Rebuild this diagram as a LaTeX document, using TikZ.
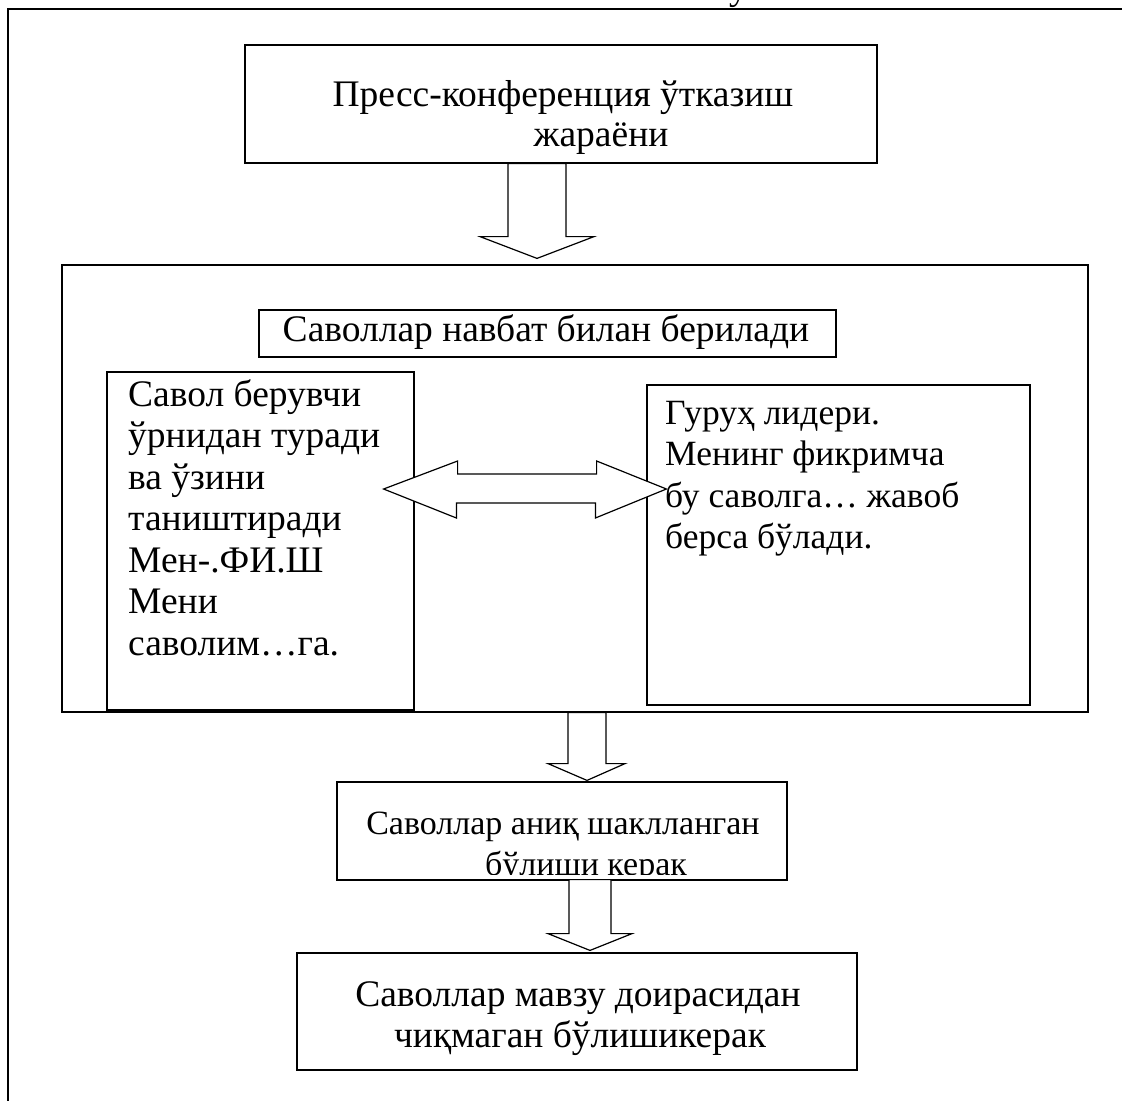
\documentclass[tikz,border=0pt]{standalone}
\usepackage{fontspec}
\setmainfont{Liberation Serif}
\usetikzlibrary{calc}
\begin{document}
\begin{tikzpicture}[x=1bp,y=-1bp,
  box/.style={draw, line width=1.2bp, inner sep=0pt, fill=white},
  txt/.style={inner sep=0pt, font=\fontsize{37.5bp}{41.5bp}\selectfont},
  txtr/.style={inner sep=0pt, font=\fontsize{35.5bp}{41.5bp}\selectfont},
  txts/.style={inner sep=0pt, font=\fontsize{34bp}{41.5bp}\selectfont},
  barrow/.style={draw, line width=1.2bp, fill=white, line join=miter}]
\useasboundingbox (0,0) rectangle (1122,1101);
% page frame
\draw[line width=2.2bp] (8,9) -- (1122,9);
\draw[line width=1.5bp] (8,8) -- (8,1101);
\node[txt, anchor=base west] (topu) at (729,-1) {у};
% boxes
\node[box, minimum width=632bp, minimum height=118bp] (b1) at (561,104) {};
\node[box, minimum width=1026bp, minimum height=447bp] (cont) at (575,488.5) {};
\node[box, minimum width=577bp, minimum height=47bp] (b2) at (547.5,333.5) {};
\node[box, minimum width=307bp, minimum height=338bp] (lb) at (260.5,541) {};
\node[box, minimum width=383bp, minimum height=320bp] (rb) at (838.5,545) {};
\node[box, minimum width=450bp, minimum height=98bp] (b3) at (562,831) {};
\node[box, minimum width=560bp, minimum height=117bp] (b4) at (577,1011.5) {};
% texts
\node[txt, anchor=base] (t1a) at (563,106) {Пресс-конференция ўтказиш};
\node[txt, anchor=base] (t1b) at (601,146) {жараёни};
\node[txt, anchor=base] (t2) at (546,341) {Саволлар навбат билан берилади};
\node[txt, anchor=base west] (l1) at (128,406) {Савол берувчи};
\node[txt, anchor=base west] (l2) at (128,447.5) {ўрнидан туради};
\node[txt, anchor=base west] (l3) at (128,489) {ва ўзини};
\node[txt, anchor=base west] (l4) at (128,530.5) {таништиради};
\node[txt, anchor=base west] (l5) at (128,572) {Мен-.ФИ.Ш};
\node[txt, anchor=base west] (l6) at (128,613.5) {Мени};
\node[txt, anchor=base west] (l7) at (128,655) {саволим…га.};
\node[txtr, anchor=base west] (r1) at (665,424) {Гуруҳ лидери.};
\node[txtr, anchor=base west] (r2) at (665,465.5) {Менинг фикримча};
\node[txtr, anchor=base west] (r3) at (665,507) {бу саволга… жавоб};
\node[txtr, anchor=base west] (r4) at (665,548.5) {берса бўлади.};
\node[txts, anchor=base] (t3a) at (563,834) {Саволлар аниқ шаклланган};
\begin{scope}
  \clip (337,783) rectangle (787,874);
  \node[txts, anchor=base] (t3b) at (586,875.5) {бўлиши керак};
\end{scope}
\node[txt, anchor=base] (t4a) at (578,1006) {Саволлар мавзу доирасидан};
\node[txt, anchor=base] (t4b) at (580,1047) {чиқмаган бўлишикерак};
% block arrows
\draw[barrow] ($(b1.south)+(-53,0)$) -- ($(b1.south)+(5,0)$) -- ($(b1.south)+(5,73)$)
  -- ($(b1.south)+(33,73)$) -- ($(cont.north)+(-38,-6)$) -- ($(b1.south)+(-81,73)$)
  -- ($(b1.south)+(-53,73)$) -- cycle;
\draw[barrow] ($(cont.south)+(-7,0)$) -- ($(cont.south)+(31,0)$) -- ($(cont.south)+(31,51)$)
  -- ($(cont.south)+(50,51)$) -- ($(b3.north)+(25,-1)$) -- ($(cont.south)+(-27,51)$)
  -- ($(cont.south)+(-7,51)$) -- cycle;
\draw[barrow] ($(b3.south)+(7,-1)$) -- ($(b3.south)+(49,-1)$) -- ($(b3.south)+(49,53)$)
  -- ($(b3.south)+(70,53)$) -- ($(b4.north)+(13,-2)$) -- ($(b3.south)+(-14,53)$)
  -- ($(b3.south)+(7,53)$) -- cycle;
\draw[barrow] ($(lb.east)+(-31,-52)$) -- ++(74,-28) -- ++(0,13) -- ++(139,0) -- ++(0,-13)
  -- ($(rb.west)+(20,-56)$) -- ++(-71,29) -- ++(0,-15) -- ++(-139,0) -- ++(0,15) -- cycle;
\end{tikzpicture}
\end{document}
